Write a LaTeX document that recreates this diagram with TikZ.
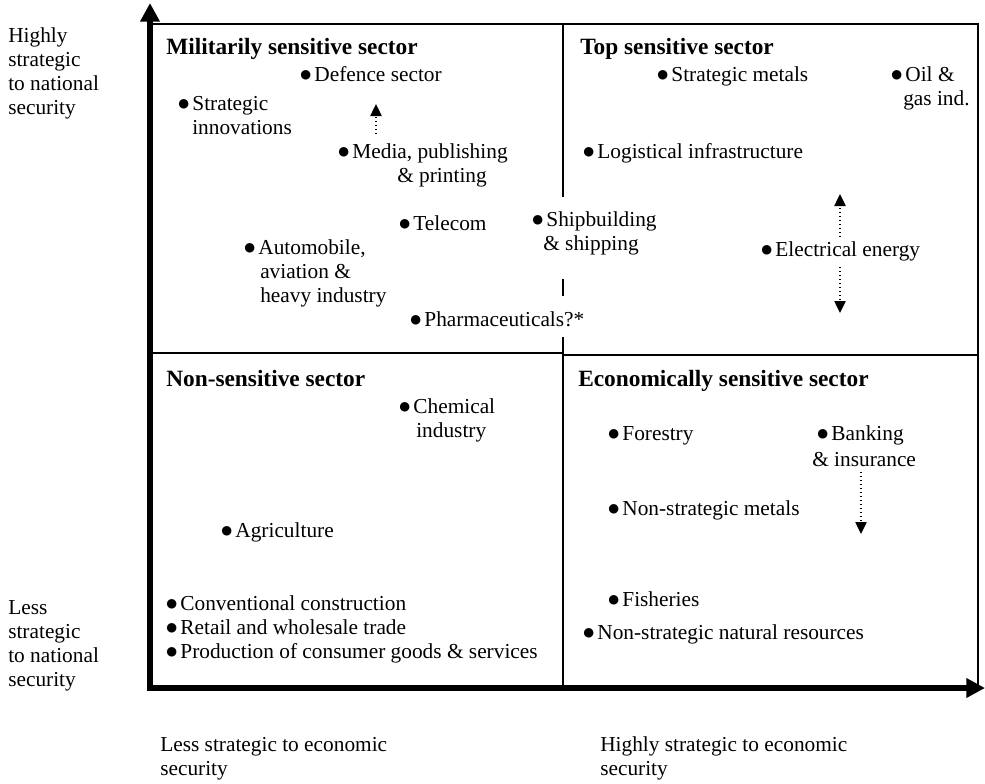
\documentclass[tikz,border=0pt]{standalone}
\usepackage{fontspec}
\setmainfont{Liberation Serif}
\newfontfamily\symf{DejaVu Sans}
\newcommand{\bul}{\makebox[10.6pt][l]{\raisebox{1.8pt}{\symf\fontsize{9.3}{10}\selectfont ●}}}
\usetikzlibrary{arrows.meta}
\begin{document}
\begin{tikzpicture}[x=0.75pt,y=-0.75pt,
  txt/.style={font=\fontsize{16}{19}\selectfont, inner sep=0pt, anchor=base west},
  ttl/.style={font=\fontsize{17.5}{21}\selectfont\bfseries, inner sep=0pt, anchor=base west},
  axis/.style={line width=4pt, -{Triangle[width=14pt,length=14pt]}},
  frame/.style={line width=0.8pt},
  dotarrow/.style={line width=1pt, dotted, -{Triangle[width=8.5pt,length=9pt]}}]
\useasboundingbox (0,0) rectangle (985,783);
% frame
\coordinate (tl) at (150,24);
\coordinate (tr) at (978,24);
\coordinate (br) at (978,686);
\draw[frame] (tl) -- (tr) -- (br);
\coordinate (mt) at (563,24);
\coordinate (m1) at (563,197);
\coordinate (m2) at (563,279);
\coordinate (m3) at (563,296);
\coordinate (m4) at (563,337);
\coordinate (mb) at (563,686);
\draw[frame] (mt) -- (m1);
\draw[frame] (m2) -- (m3);
\draw[frame] (m4) -- (mb);
\coordinate (hl1) at (150,353);
\coordinate (hl2) at (563,353);
\coordinate (hr1) at (563,355);
\coordinate (hr2) at (978,355);
\draw[frame] (hl1) -- (hl2);
\draw[frame] (hr1) -- (hr2);
% axes
\coordinate (o) at (150,688);
\coordinate (ytop) at (150,3);
\coordinate (xend) at (985,688);
\coordinate (o2) at (147,688);
\draw[axis] (o) -- (ytop);
\draw[axis] (o2) -- (xend);
% axis labels
\node[txt] (h1) at (8,42) {Highly};
\node[txt] (h2) at (8,66) {strategic};
\node[txt] (h3) at (8,90) {to national};
\node[txt] (h4) at (8,114) {security};
\node[txt] (l1) at (8,614) {Less};
\node[txt] (l2) at (8,638) {strategic};
\node[txt] (l3) at (8,662) {to national};
\node[txt] (l4) at (8,686) {security};
\node[txt] (bl1) at (160,751) {Less strategic to economic};
\node[txt] (bl2) at (160,775) {security};
\node[txt] (br1) at (600,751) {Highly strategic to economic};
\node[txt] (br2) at (600,775) {security};
% top-left
\node[ttl] (t1) at (166,54) {Militarily sensitive sector};
\node[txt] (def) at (300,81) {\bul Defence sector};
\node[txt] (si1) at (178,110) {\bul Strategic};
\node[txt] (si2) at (192,134) {innovations};
\node[txt] (me1) at (338,158) {\bul Media, publishing};
\node[txt] (me2) at (397,182) {\& printing};
\node[txt] (tel) at (399,230) {\bul Telecom};
\node[txt] (au1) at (244,254) {\bul Automobile,};
\node[txt] (au2) at (260,278) {aviation \&};
\node[txt] (au3) at (260,302) {heavy industry};
\node[txt] (ph) at (410,326) {\bul Pharmaceuticals?*};
\node[txt] (sh1) at (532,226) {\bul Shipbuilding};
\node[txt] (sh2) at (543,250) {\& shipping};
\coordinate (a1s) at (376,134);
\coordinate (a1e) at (376,104);
\draw[dotarrow] (a1s) -- (a1e);
% top-right
\node[ttl] (t2) at (580,54) {Top sensitive sector};
\node[txt] (sm) at (657,81) {\bul Strategic metals};
\node[txt] (oil1) at (891,81) {\bul Oil \&};
\node[txt] (oil2) at (903,105) {gas ind.};
\node[txt] (log) at (583,158) {\bul Logistical infrastructure};
\node[txt] (el) at (761,256) {\bul Electrical energy};
\coordinate (a2s) at (840,237);
\coordinate (a2e) at (840,194);
\draw[dotarrow] (a2s) -- (a2e);
\coordinate (a3s) at (840,267);
\coordinate (a3e) at (840,313);
\draw[dotarrow] (a3s) -- (a3e);
% bottom-left
\node[ttl] (t3) at (166,386) {Non-sensitive sector};
\node[txt] (ch1) at (399,413) {\bul Chemical};
\node[txt] (ch2) at (416,437) {industry};
\node[txt] (ag) at (221,537) {\bul Agriculture};
\node[txt] (cc) at (166,610) {\bul Conventional construction};
\node[txt] (rw) at (166,634) {\bul Retail and wholesale trade};
\node[txt] (pc) at (166,658) {\bul Production of consumer goods \& services};
% bottom-right
\node[ttl] (t4) at (578,386) {Economically sensitive sector};
\node[txt] (fo) at (608,440) {\bul Forestry};
\node[txt] (bk1) at (817,440) {\bul Banking};
\node[txt] (bk2) at (812,466) {\& insurance};
\node[txt] (nsm) at (608,515) {\bul Non-strategic metals};
\node[txt] (fi) at (608,606) {\bul Fisheries};
\node[txt] (nsr) at (583,639) {\bul Non-strategic natural resources};
\coordinate (a4s) at (861,472);
\coordinate (a4e) at (861,534);
\draw[dotarrow] (a4s) -- (a4e);
\end{tikzpicture}
\end{document}
